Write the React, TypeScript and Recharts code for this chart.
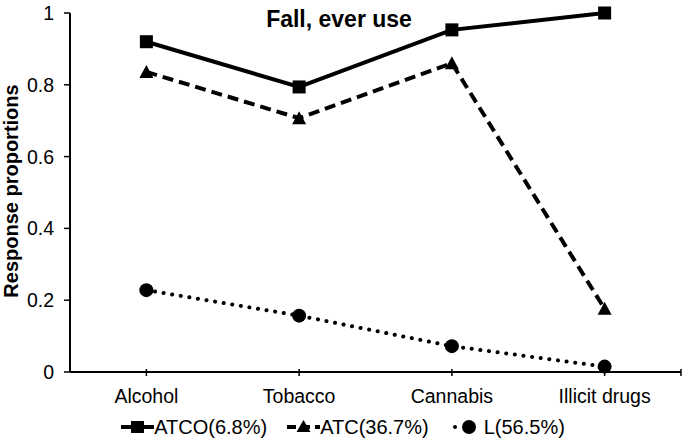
import React from 'react';
import {LineChart, Line, XAxis, YAxis} from 'recharts';

const categories = ['Alcohol', 'Tobacco', 'Cannabis', 'Illicit drugs'];
const atcoValues = [0.92, 0.794, 0.953, 1.0];
const atcValues = [0.836, 0.707, 0.86, 0.176];
const lValues = [0.228, 0.157, 0.072, 0.015];
const yTicks = [0, 0.2, 0.4, 0.6, 0.8, 1];
const xTicks = [0, 1, 2, 3, 3.5];
const seriesNames = ['ATCO(6.8%)', 'ATC(36.7%)', 'L(56.5%)'];

const data = categories.map((name, i) => ({
    idx: i,
    name,
    atco: atcoValues[i],
    atc: atcValues[i],
    l: lValues[i],
}));

const font = '"Liberation Sans", Arial, sans-serif';

const SquareDot = (props: any) => {
    const {cx, cy} = props;
    return <rect x={cx - 6.5} y={cy - 6.5} width={13} height={13} fill="#000" />;
};

const TriangleDot = (props: any) => {
    const {cx, cy} = props;
    return <polygon points={`${cx},${cy - 7} ${cx - 7},${cy + 6} ${cx + 7},${cy + 6}`} fill="#000" />;
};

const CircleDot = (props: any) => {
    const {cx, cy} = props;
    return <circle cx={cx} cy={cy} r={7} fill="#000" />;
};

const XTick = (props: any) => {
    const {x, y, payload} = props;
    const label = categories[payload.value] ?? '';
    return (
        <g>
            <line x1={x} x2={x} y1={y - 3} y2={y + 4} stroke="#000" strokeWidth={1.5} />
            {label && (
                <text x={x} y={y + 31} textAnchor="middle" fontSize={19.5} fontFamily={font} fill="#000">
                    {label}
                </text>
            )}
        </g>
    );
};

const legendIcons = [
    <svg width={33} height={20} key="a">
        <line x1={0} x2={33} y1={10} y2={10} stroke="#000" strokeWidth={4} />
        <rect x={10} y={4} width={13} height={12} fill="#000" />
    </svg>,
    <svg width={33} height={20} key="b">
        <line x1={0} x2={33} y1={10} y2={10} stroke="#000" strokeWidth={4} strokeDasharray="9 5" />
        <polygon points="16.5,3 9.5,15 23.5,15" fill="#000" />
    </svg>,
    <svg width={35} height={20} key="c">
        <circle cx={6} cy={10} r={2} fill="#000" />
        <circle cx={20} cy={10} r={7} fill="#000" />
    </svg>,
];

const App = () => {
    return (
        <div style={{position: 'relative', width: 686, height: 442, background: '#fff', fontFamily: font}}>
            <style>{'body{margin:0}'}</style>
            <LineChart width={686} height={442} data={data} margin={{top: 13, right: 5, left: 10, bottom: 40}}>
                <XAxis
                    dataKey="idx"
                    type="number"
                    domain={[-0.5, 3.5]}
                    ticks={xTicks}
                    interval={0}
                    tickSize={0}
                    tickMargin={0}
                    tickLine={false}
                    tick={<XTick />}
                    axisLine={{stroke: '#000', strokeWidth: 2}}
                    height={30}
                />
                <YAxis
                    domain={[0, 1]}
                    ticks={yTicks}
                    interval={0}
                    width={60}
                    tickSize={6}
                    tickMargin={10}
                    tickLine={{stroke: '#000', strokeWidth: 1.5}}
                    axisLine={{stroke: '#000', strokeWidth: 2}}
                    tick={{fill: '#000', fontSize: 19.5, fontFamily: font}}
                />
                <Line
                    dataKey="atco"
                    stroke="#000"
                    strokeWidth={4}
                    dot={<SquareDot />}
                    activeDot={false}
                    isAnimationActive={false}
                />
                <Line
                    dataKey="atc"
                    stroke="#000"
                    strokeWidth={4}
                    strokeDasharray="11 6"
                    dot={<TriangleDot />}
                    activeDot={false}
                    isAnimationActive={false}
                />
                <Line
                    dataKey="l"
                    stroke="#000"
                    strokeWidth={4}
                    strokeDasharray="0.1 8.6"
                    strokeLinecap="round"
                    dot={<CircleDot />}
                    activeDot={false}
                    isAnimationActive={false}
                />
            </LineChart>
            <svg width={686} height={442} style={{position: 'absolute', left: 0, top: 0, pointerEvents: 'none'}}>
                <text x={339} y={27} textAnchor="middle" fontSize={23} fontWeight="bold" fontFamily={font} fill="#000">
                    Fall, ever use
                </text>
                <text
                    transform="translate(17.5,191) rotate(-90)"
                    textAnchor="middle"
                    fontSize={20}
                    fontWeight="bold"
                    fontFamily={font}
                    fill="#000"
                >
                    Response proportions
                </text>
            </svg>
            <div
                style={{
                    position: 'absolute',
                    left: 0,
                    top: 416,
                    width: 686,
                    height: 22,
                    display: 'flex',
                    justifyContent: 'center',
                    alignItems: 'center',
                    gap: 20,
                    fontSize: 20,
                    lineHeight: '22px',
                    color: '#000',
                }}
            >
                {seriesNames.map((name, i) => (
                    <div key={name} style={{display: 'flex', alignItems: 'center'}}>
                        {legendIcons[i]}
                        <span>{name}</span>
                    </div>
                ))}
            </div>
        </div>
    );
};

export default App;
